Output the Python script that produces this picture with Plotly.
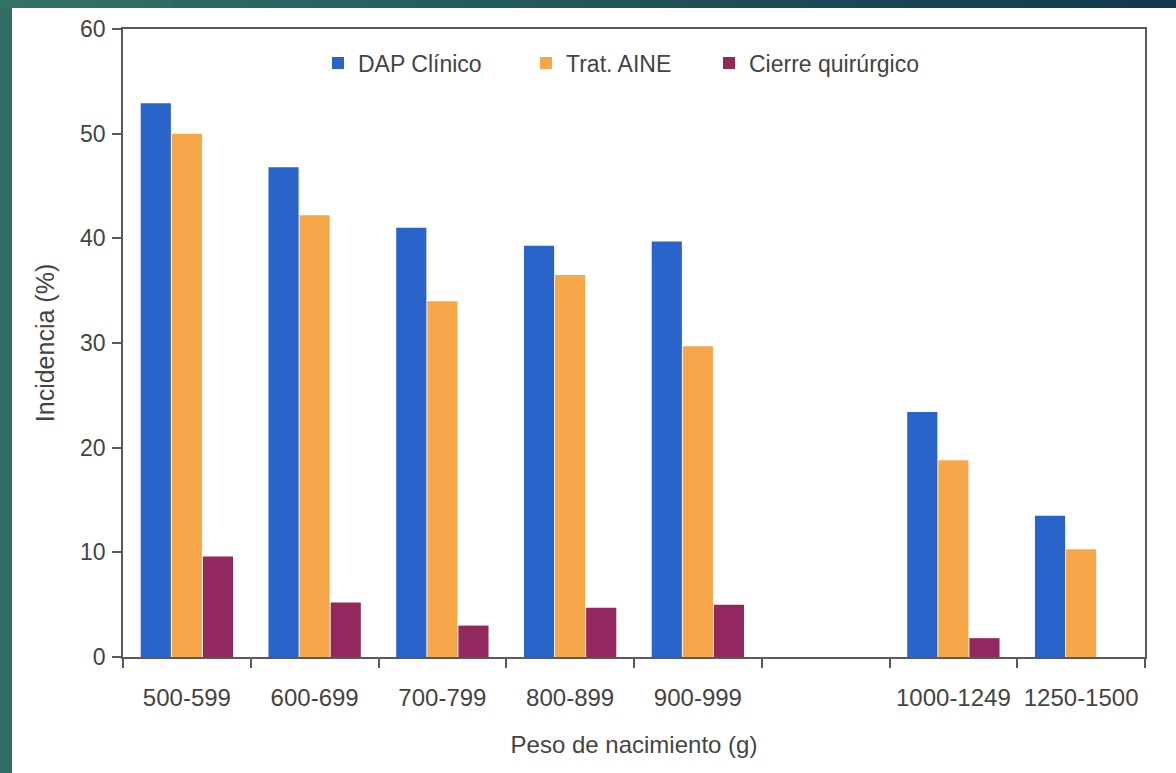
import plotly.graph_objects as go

# Birth-weight groups (an empty slot separates the two ranges)
categories = ["500-599", "600-699", "700-799", "800-899", "900-999", " ", "1000-1249", "1250-1500"]

# Incidence (%) per group
dap_clinico = [52.9, 46.8, 41.0, 39.3, 39.7, None, 23.4, 13.5]
trat_aine = [50.0, 42.2, 34.0, 36.5, 29.7, None, 18.8, 10.3]
cierre_quirurgico = [9.6, 5.2, 3.0, 4.7, 5.0, None, 1.8, None]

series_names = ["DAP Clínico", "Trat. AINE", "Cierre quirúrgico"]
series_colors = ["#2A63C9", "#F8A64A", "#93285F"]

W, H = 1176, 773
L, R, T, B = 123, 31, 29, 116
PW, PH = W - L - R, H - T - B

FONT = "Liberation Sans, Arial, sans-serif"
TXT = "#444444"
AX = "#5a5a5a"


def xp(px):
    return (px - L) / PW


def yp(py):
    return 1 - (py - T) / PH


fig = go.Figure()
legend_ids = ["legend", "legend2", "legend3"]
for name, vals, col, lg in zip(series_names, [dap_clinico, trat_aine, cierre_quirurgico],
                               series_colors, legend_ids):
    fig.add_trace(go.Bar(x=categories, y=vals, name=name, legend=lg, showlegend=True,
                         marker=dict(color=col, line=dict(width=0))))

# page frame: teal strip on the left, teal-to-navy band across the top
shapes = [dict(type="rect", xref="paper", yref="paper", x0=xp(0), x1=xp(12), y0=yp(H), y1=yp(0),
               fillcolor="#2F6D66", line=dict(width=0), layer="below")]
n = 48
c0 = (50, 114, 104)
c1 = (18, 56, 78)
for i in range(n):
    t = i / (n - 1)
    c = tuple(round(a + (b - a) * t) for a, b in zip(c0, c1))
    shapes.append(dict(type="rect", xref="paper", yref="paper",
                       x0=xp(W * i / n), x1=xp(W * (i + 1) / n + 1), y0=yp(8), y1=yp(0),
                       fillcolor="rgb(%d,%d,%d)" % c, line=dict(width=0), layer="below"))

legend_style = dict(orientation="h", yanchor="middle", xanchor="left",
                    font=dict(family=FONT, size=23, color=TXT), bgcolor="rgba(0,0,0,0)")
leg_px = [318, 526, 709]

fig.update_layout(
    width=W, height=H,
    margin=dict(l=L, r=R, t=T, b=B),
    paper_bgcolor="white", plot_bgcolor="white",
    showlegend=True,
    barmode="group", bargap=0.27, bargroupgap=0.03,
    font=dict(family=FONT, color=TXT),
    shapes=shapes,
    legend=dict(x=xp(leg_px[0]), y=yp(63), **legend_style),
    legend2=dict(x=xp(leg_px[1]), y=yp(63), **legend_style),
    legend3=dict(x=xp(leg_px[2]), y=yp(63), **legend_style),
    xaxis=dict(
        type="category", categoryorder="array", categoryarray=categories,
        showline=True, linecolor=AX, linewidth=1.5, mirror=True,
        ticks="outside", tickson="boundaries", ticklen=9, tickcolor=AX, tickwidth=1.5,
        tickfont=dict(family=FONT, size=24, color=TXT), ticklabelstandoff=18,
        showgrid=False,
        title=dict(text="Peso de nacimiento (g)", font=dict(family=FONT, size=24, color=TXT),
                   standoff=27),
    ),
    yaxis=dict(
        range=[0, 60], dtick=10,
        showline=True, linecolor=AX, linewidth=1.5, mirror=True,
        ticks="outside", ticklen=9, tickcolor=AX, tickwidth=1.5,
        tickfont=dict(family=FONT, size=23, color=TXT), ticklabelstandoff=2,
        showgrid=False, zeroline=False,
        title=dict(text="Incidencia (%)", font=dict(family=FONT, size=25, color=TXT),
                   standoff=18),
    ),
)

fig.write_html("out.html")
